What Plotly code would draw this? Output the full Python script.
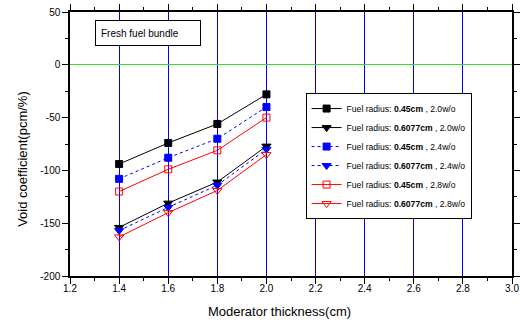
import plotly.graph_objects as go

thickness = [1.4, 1.6, 1.8, 2.0]
r045_20 = [-94, -74, -56, -28]
r6077_20 = [-154, -131, -111, -77]
r045_24 = [-108, -88, -70, -40]
r6077_24 = [-157, -135, -114, -80]
r045_28 = [-120, -99, -81, -50]
r6077_28 = [-163, -140, -119, -85]

x_ticks = [1.2, 1.4, 1.6, 1.8, 2.0, 2.2, 2.4, 2.6, 2.8, 3.0]
x_ticktext = ["1.2", "1.4", "1.6", "1.8", "2.0", "2.2", "2.4", "2.6", "2.8", "3.0"]
y_ticks = [-200, -150, -100, -50, 0, 50]
y_ticktext = ["-200", "-150", "-100", "-50", "0", "50"]

series = [
    ("Fuel radius: <b>0.45cm</b> , 2.0w/o", r045_20, "black", "solid", "square"),
    ("Fuel radius: <b>0.6077cm</b> , 2.0w/o", r6077_20, "black", "solid", "triangle-down"),
    ("Fuel radius: <b>0.45cm</b> , 2.4w/o", r045_24, "#0000ff", "dot", "square"),
    ("Fuel radius: <b>0.6077cm</b> , 2.4w/o", r6077_24, "#0000ff", "dot", "triangle-down"),
    ("Fuel radius: <b>0.45cm</b> , 2.8w/o", r045_28, "#ff0000", "solid", "square-open"),
    ("Fuel radius: <b>0.6077cm</b> , 2.8w/o", r6077_28, "#ff0000", "solid", "triangle-down-open"),
]

fig = go.Figure()
for name, ys, col, dash, sym in series:
    fig.add_trace(go.Scatter(
        x=thickness, y=ys, name=name, mode="lines+markers",
        line=dict(color=col, width=1, dash=dash),
        marker=dict(symbol=sym, size=8 if "triangle" in sym else 7, color=col,
                    line=dict(color=col, width=1)),
    ))

font = "Liberation Sans, Arial, sans-serif"
fig.update_layout(
    width=520, height=322,
    margin=dict(l=70, r=0, t=12, b=46),
    paper_bgcolor="white", plot_bgcolor="white",
    font=dict(family=font, color="black", size=10),
    showlegend=True,
    legend=dict(x=0.533, y=0.693, xanchor="left", yanchor="top",
                bordercolor="black", borderwidth=1, bgcolor="white",
                font=dict(size=8.6, family=font), tracegroupgap=0),
    xaxis=dict(range=[1.2, 3.0], tickvals=x_ticks, ticktext=x_ticktext,
               showgrid=True, gridcolor="#0000ff", gridwidth=1,
               showline=True, linecolor="black", linewidth=1.5, mirror="ticks",
               ticks="outside", ticklen=6, tickwidth=1, tickcolor="black",
               minor=dict(dtick=0.1, tick0=1.2, ticks="outside", ticklen=3, tickcolor="black", showgrid=False),
               zeroline=False, ticklabelstandoff=-4,
               tickfont=dict(size=10)),
    yaxis=dict(range=[-200, 50], tickvals=y_ticks, ticktext=y_ticktext,
               showgrid=False,
               zeroline=True, zerolinecolor="#33dd33", zerolinewidth=1,
               showline=True, linecolor="black", linewidth=1.5, mirror="ticks",
               ticks="outside", ticklen=6, tickwidth=1, tickcolor="black",
               minor=dict(dtick=25, tick0=-200, ticks="outside", ticklen=3, tickcolor="black", showgrid=False),
               tickfont=dict(size=10)),
    annotations=[
        dict(text="Fresh fuel bundle", xref="paper", yref="paper",
             x=0.0556, y=0.970, xanchor="left", yanchor="top",
             showarrow=False, align="left", width=94, height=14,
             bordercolor="black", borderwidth=1, borderpad=5, bgcolor="white",
             font=dict(size=10, family=font)),
        dict(text="Moderator thickness(cm)", xref="paper", yref="paper",
             x=0.473, y=-0.136, xanchor="center", yanchor="middle",
             showarrow=False, font=dict(size=13, family=font)),
        dict(text="Void coefficient(pcm/%)", xref="paper", yref="paper",
             x=-0.109, y=0.443, xanchor="center", yanchor="middle", textangle=-90,
             showarrow=False, font=dict(size=13, family=font)),
    ],
)

fig.write_html("out.html")
